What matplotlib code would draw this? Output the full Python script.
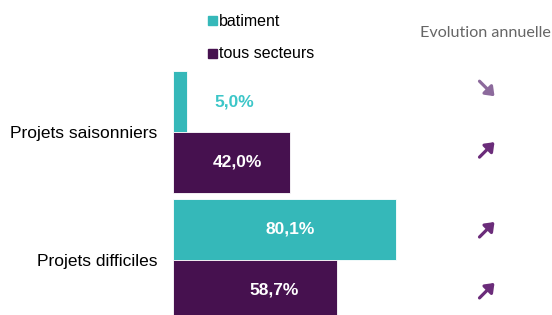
import numpy as np
import matplotlib.pyplot as plt
from matplotlib.patches import Rectangle

categories = ['Projets saisonniers', 'Projets difficiles']
series = ['batiment', 'tous secteurs']
batiment = [5.0, 80.1]
tous_secteurs = [42.0, 58.7]
trend = [['down', 'up'], ['up', 'up']]  # [category][series]

teal = '#35b8b9'
purple = '#46114f'
arrow_up = '#6b2c7a'
arrow_down = '#8c6a9c'

W, H = 552, 315
fig = plt.figure(figsize=(W / 100, H / 100), dpi=100)
plt.rcParams['font.family'] = ['Liberation Sans', 'DejaVu Sans']

left = 173
ax = fig.add_axes([left / W, 0, (W - left) / W, 1])
px_per_unit = 2.79
ax.set_xlim(0, (W - left) / px_per_unit)
ax.set_ylim(1.43, -1.031)

h = 0.476
y = np.arange(len(categories))
bars_b = ax.barh(y - h / 2, batiment, height=h, color=teal, edgecolor='white', linewidth=0.6)
bars_t = ax.barh(y + h / 2, tous_secteurs, height=h, color=purple, edgecolor='white', linewidth=0.6)

ax.set_yticks(y, categories, fontsize=12.5)
ax.tick_params(axis='y', length=0, pad=11)
ax.set_xticks([])
for s in ax.spines.values():
  s.set_visible(False)

# value labels
for bars, vals in ((bars_b, batiment), (bars_t, tous_secteurs)):
  for bar, v in zip(bars, vals):
    cy = bar.get_y() + bar.get_height() / 2
    txt = ('%.1f%%' % v).replace('.', ',')
    if v < 15:
      ax.text(v + 17, cy, txt, color='#3cc6c8', fontsize=12.5, fontweight='bold',
              ha='center', va='center')
    else:
      ax.text(v / 2 + 2 + (5 if v > 50 and v < 70 else 0), cy, txt, color='white',
              fontsize=12.5, fontweight='bold', ha='center', va='center')

# trend arrows, drawn in figure pixels
ax_x = 487
for i in range(len(categories)):
  for j, bars in enumerate((bars_b, bars_t)):
    bar = bars[i]
    cy = bar.get_y() + bar.get_height() / 2
    if i == 0:
      cy -= 0.1
    py = ax.transData.transform((0, cy))[1]
    up = trend[i][j] == 'up'
    d = 7.5
    if up:
      tail, head = (ax_x - d, py - d), (ax_x + d, py + d)
    else:
      tail, head = (ax_x - d, py + d), (ax_x + d, py - d)
    ax.annotate('', xy=head, xytext=tail, xycoords='figure pixels',
                textcoords='figure pixels',
                arrowprops=dict(arrowstyle='-|>,head_length=0.5,head_width=0.38',
                                color=arrow_up if up else arrow_down, lw=2.3,
                                shrinkA=0, shrinkB=0))

# legend
for k, (name, col) in enumerate(zip(series, (teal, purple))):
  ytop = 16 + k * 33
  fig.patches.append(Rectangle((208 / W, 1 - (ytop + 9) / H), 9 / W, 9 / H,
                               transform=fig.transFigure, color=col))
  fig.text(219 / W, 1 - (ytop + 5) / H, name, fontsize=11.5, va='center', ha='left')

fig.text(551 / W, 1 - 33 / H, 'Evolution annuelle', fontsize=11.6, color='#666666',
         ha='right', va='center', family=['Lato', 'DejaVu Sans'])

fig.savefig('out.png', dpi=100)
